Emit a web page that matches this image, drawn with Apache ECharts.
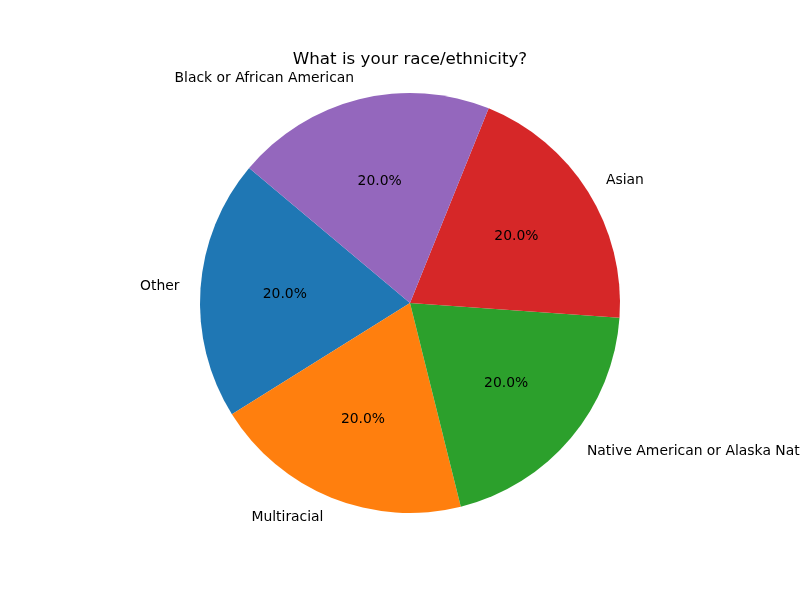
<!DOCTYPE html>
<html>
<head>
<meta charset="utf-8">
<script src="https://cdn.jsdelivr.net/npm/echarts@6/dist/echarts.min.js"></script>
<style>html,body{margin:0;padding:0;background:#fff}#c{width:800px;height:600px}</style>
</head>
<body>
<div id="c"></div>
<script>
const categories = ["Other", "Multiracial", "Native American or Alaska Native", "Asian", "Black or African American"];
const values = [1, 1, 1, 1, 1];
const colors = ["#1f77b4", "#ff7f0e", "#2ca02c", "#d62728", "#9467bd"];
const titleText = "What is your race/ethnicity?";

const chart = echarts.init(document.getElementById('c'), null, {renderer: 'canvas'});
const data = categories.map((c, i) => ({name: c, value: values[i], itemStyle: {color: colors[i]}}));
const total = values.reduce((a, b) => a + b, 0);
const font = 'DejaVu Sans';
chart.setOption({
  backgroundColor: '#ffffff',
  animation: false,
  title: {
    text: titleText,
    left: 405, top: 46,
    textAlign: 'center',
    textStyle: {fontFamily: font, fontSize: 16.7, fontWeight: 'normal', color: '#000'}
  },
  series: [
    {
      type: 'pie',
      center: [410, 303],
      radius: [0, 210],
      startAngle: 140,
      clockwise: false,
      silent: true,
      avoidLabelOverlap: false,
      data: data,
      itemStyle: {borderWidth: 0},
      label: {
        show: true,
        position: 'outside',
        distanceToLabelLine: 0,
        fontFamily: font, fontSize: 13.9, color: '#000',
        width: 400, overflow: 'none',
        formatter: '{b}'
      },
      labelLine: {show: false, length: 21, length2: 0},
      emphasis: {disabled: true}
    },
    {
      type: 'pie',
      center: [410, 303],
      radius: [0, 245],
      startAngle: 140,
      clockwise: false,
      silent: true,
      data: categories.map((c, i) => ({name: c, value: values[i]})),
      itemStyle: {color: 'rgba(0,0,0,0)', borderWidth: 0},
      label: {
        show: true,
        position: 'inside',
        fontFamily: font, fontSize: 13.9, color: '#000',
        formatter: p => (p.value / total * 100).toFixed(1) + '%'
      },
      labelLine: {show: false},
      emphasis: {disabled: true}
    }
  ]
});
</script>
</body>
</html>
